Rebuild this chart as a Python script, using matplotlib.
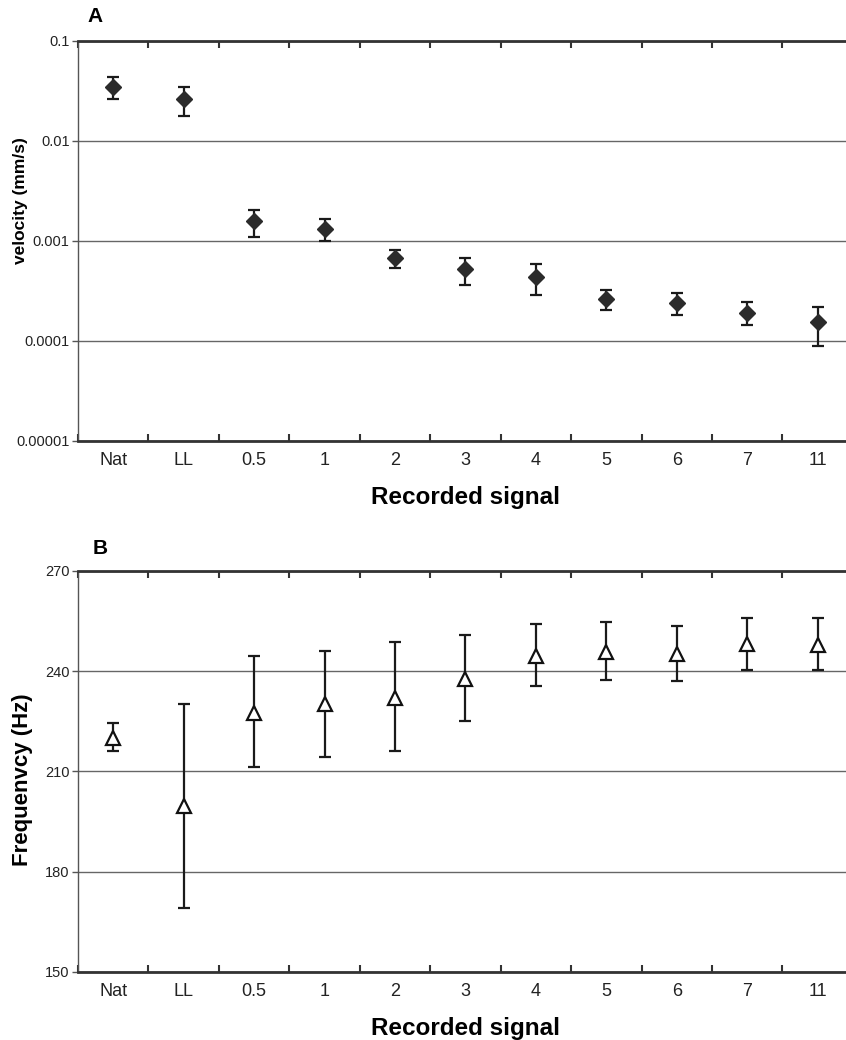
import matplotlib.pyplot as plt
import numpy as np

# signals recorded (x categories)
labels = ['Nat', 'LL', '0.5', '1', '2', '3', '4', '5', '6', '7', '11']

# A: velocity (mm/s), mean with upper / lower error bar ends
vel = np.array([0.0347, 0.0261, 0.0016, 0.00132, 0.00067, 0.00052,
                0.000435, 0.000262, 0.000237, 0.000191, 0.000155])
vel_hi = np.array([0.0434, 0.035, 0.00204, 0.00165, 0.00082, 0.00067,
                   0.000587, 0.00032, 0.000299, 0.000243, 0.000221])
vel_lo = np.array([0.0265, 0.0178, 0.0011, 0.00099, 0.00054, 0.00036,
                   0.000285, 0.000203, 0.00018, 0.000143, 0.000089])

# B: frequency (Hz)
freq = np.array([220.0, 199.7, 227.6, 230.1, 232.0, 237.8,
                 244.7, 245.7, 245.3, 248.0, 247.9])
freq_hi = np.array([224.5, 230.3, 244.5, 246.1, 248.6, 250.9,
                    254.1, 254.7, 253.5, 256.0, 255.8])
freq_lo = np.array([216.0, 169.0, 211.2, 214.2, 216.0, 225.2,
                    235.5, 237.4, 237.1, 240.3, 240.4])

vel_ticks = [0.00001, 0.0001, 0.001, 0.01, 0.1]
vel_ticklabels = ['0.00001', '0.0001', '0.001', '0.01', '0.1']
freq_ticks = [150, 180, 210, 240, 270]

plt.rcParams['font.family'] = ['Liberation Sans', 'DejaVu Sans']

fig = plt.figure(figsize=(8.46, 10.4), dpi=100)
axA = fig.add_axes([0.0922, 0.576, 0.916, 0.3846])
axB = fig.add_axes([0.0922, 0.0654, 0.916, 0.3856])

x = np.arange(len(labels))


def style_axes(ax):
    ax.set_xlim(-0.5, len(labels) - 0.5)
    ax.set_xticks(x)
    ax.set_xticklabels(labels, fontsize=13, color='#222222')
    ax.set_xticks(np.arange(len(labels)) - 0.5, minor=True)
    ax.tick_params(axis='x', which='major', length=0, pad=8)
    ax.tick_params(axis='x', which='minor', direction='in', length=5,
                   width=1.5, top=True, bottom=True, color='#333333')
    ax.tick_params(axis='y', which='major', direction='out', length=4,
                   width=1, color='#555555', labelsize=10.5, pad=2,
                   labelcolor='#222222')
    ax.tick_params(axis='y', which='minor', length=0)
    ax.grid(axis='y', color='#666666', linewidth=1.0)
    ax.set_axisbelow(True)
    ax.spines['right'].set_visible(False)
    ax.spines['left'].set_color('#555555')
    ax.spines['left'].set_linewidth(1.0)
    for s in ['top', 'bottom']:
        ax.spines[s].set_color('#333333')
        ax.spines[s].set_linewidth(2.0)
    ax.set_xlabel('Recorded signal', fontsize=17.5, fontweight='bold',
                  labelpad=12)


# A - velocity on log axis
axA.errorbar(x, vel, yerr=[vel - vel_lo, vel_hi - vel], fmt='D',
             color='#2b2b2b', markersize=8.5, ecolor='#1a1a1a',
             elinewidth=1.6, capsize=4, capthick=1.6)
axA.set_yscale('log')
axA.set_ylim(0.00001, 0.1)
axA.set_yticks(vel_ticks)
axA.set_yticklabels(vel_ticklabels)
axA.yaxis.set_minor_locator(plt.NullLocator())
style_axes(axA)
axA.set_ylabel('velocity (mm/s)', fontsize=12.5, fontweight='bold',
               va='center')
axA.yaxis.set_label_coords(-0.074, 0.6)
fig.text(0.104, 0.984, 'A', fontsize=15, fontweight='bold', va='center')

# B - frequency
axB.errorbar(x, freq, yerr=[freq - freq_lo, freq_hi - freq], fmt='^',
             markerfacecolor='white', markeredgecolor='#111111',
             markeredgewidth=1.6, markersize=10.5, ecolor='#1a1a1a',
             elinewidth=1.6, capsize=4, capthick=1.6)
axB.set_ylim(150, 270)
axB.set_yticks(freq_ticks)
style_axes(axB)
axB.set_ylabel('Frequenvcy (Hz)', fontsize=16, fontweight='bold',
               va='center')
axB.yaxis.set_label_coords(-0.072, 0.48)
fig.text(0.109, 0.473, 'B', fontsize=15, fontweight='bold', va='center')

fig.savefig('out.png', dpi=100)
